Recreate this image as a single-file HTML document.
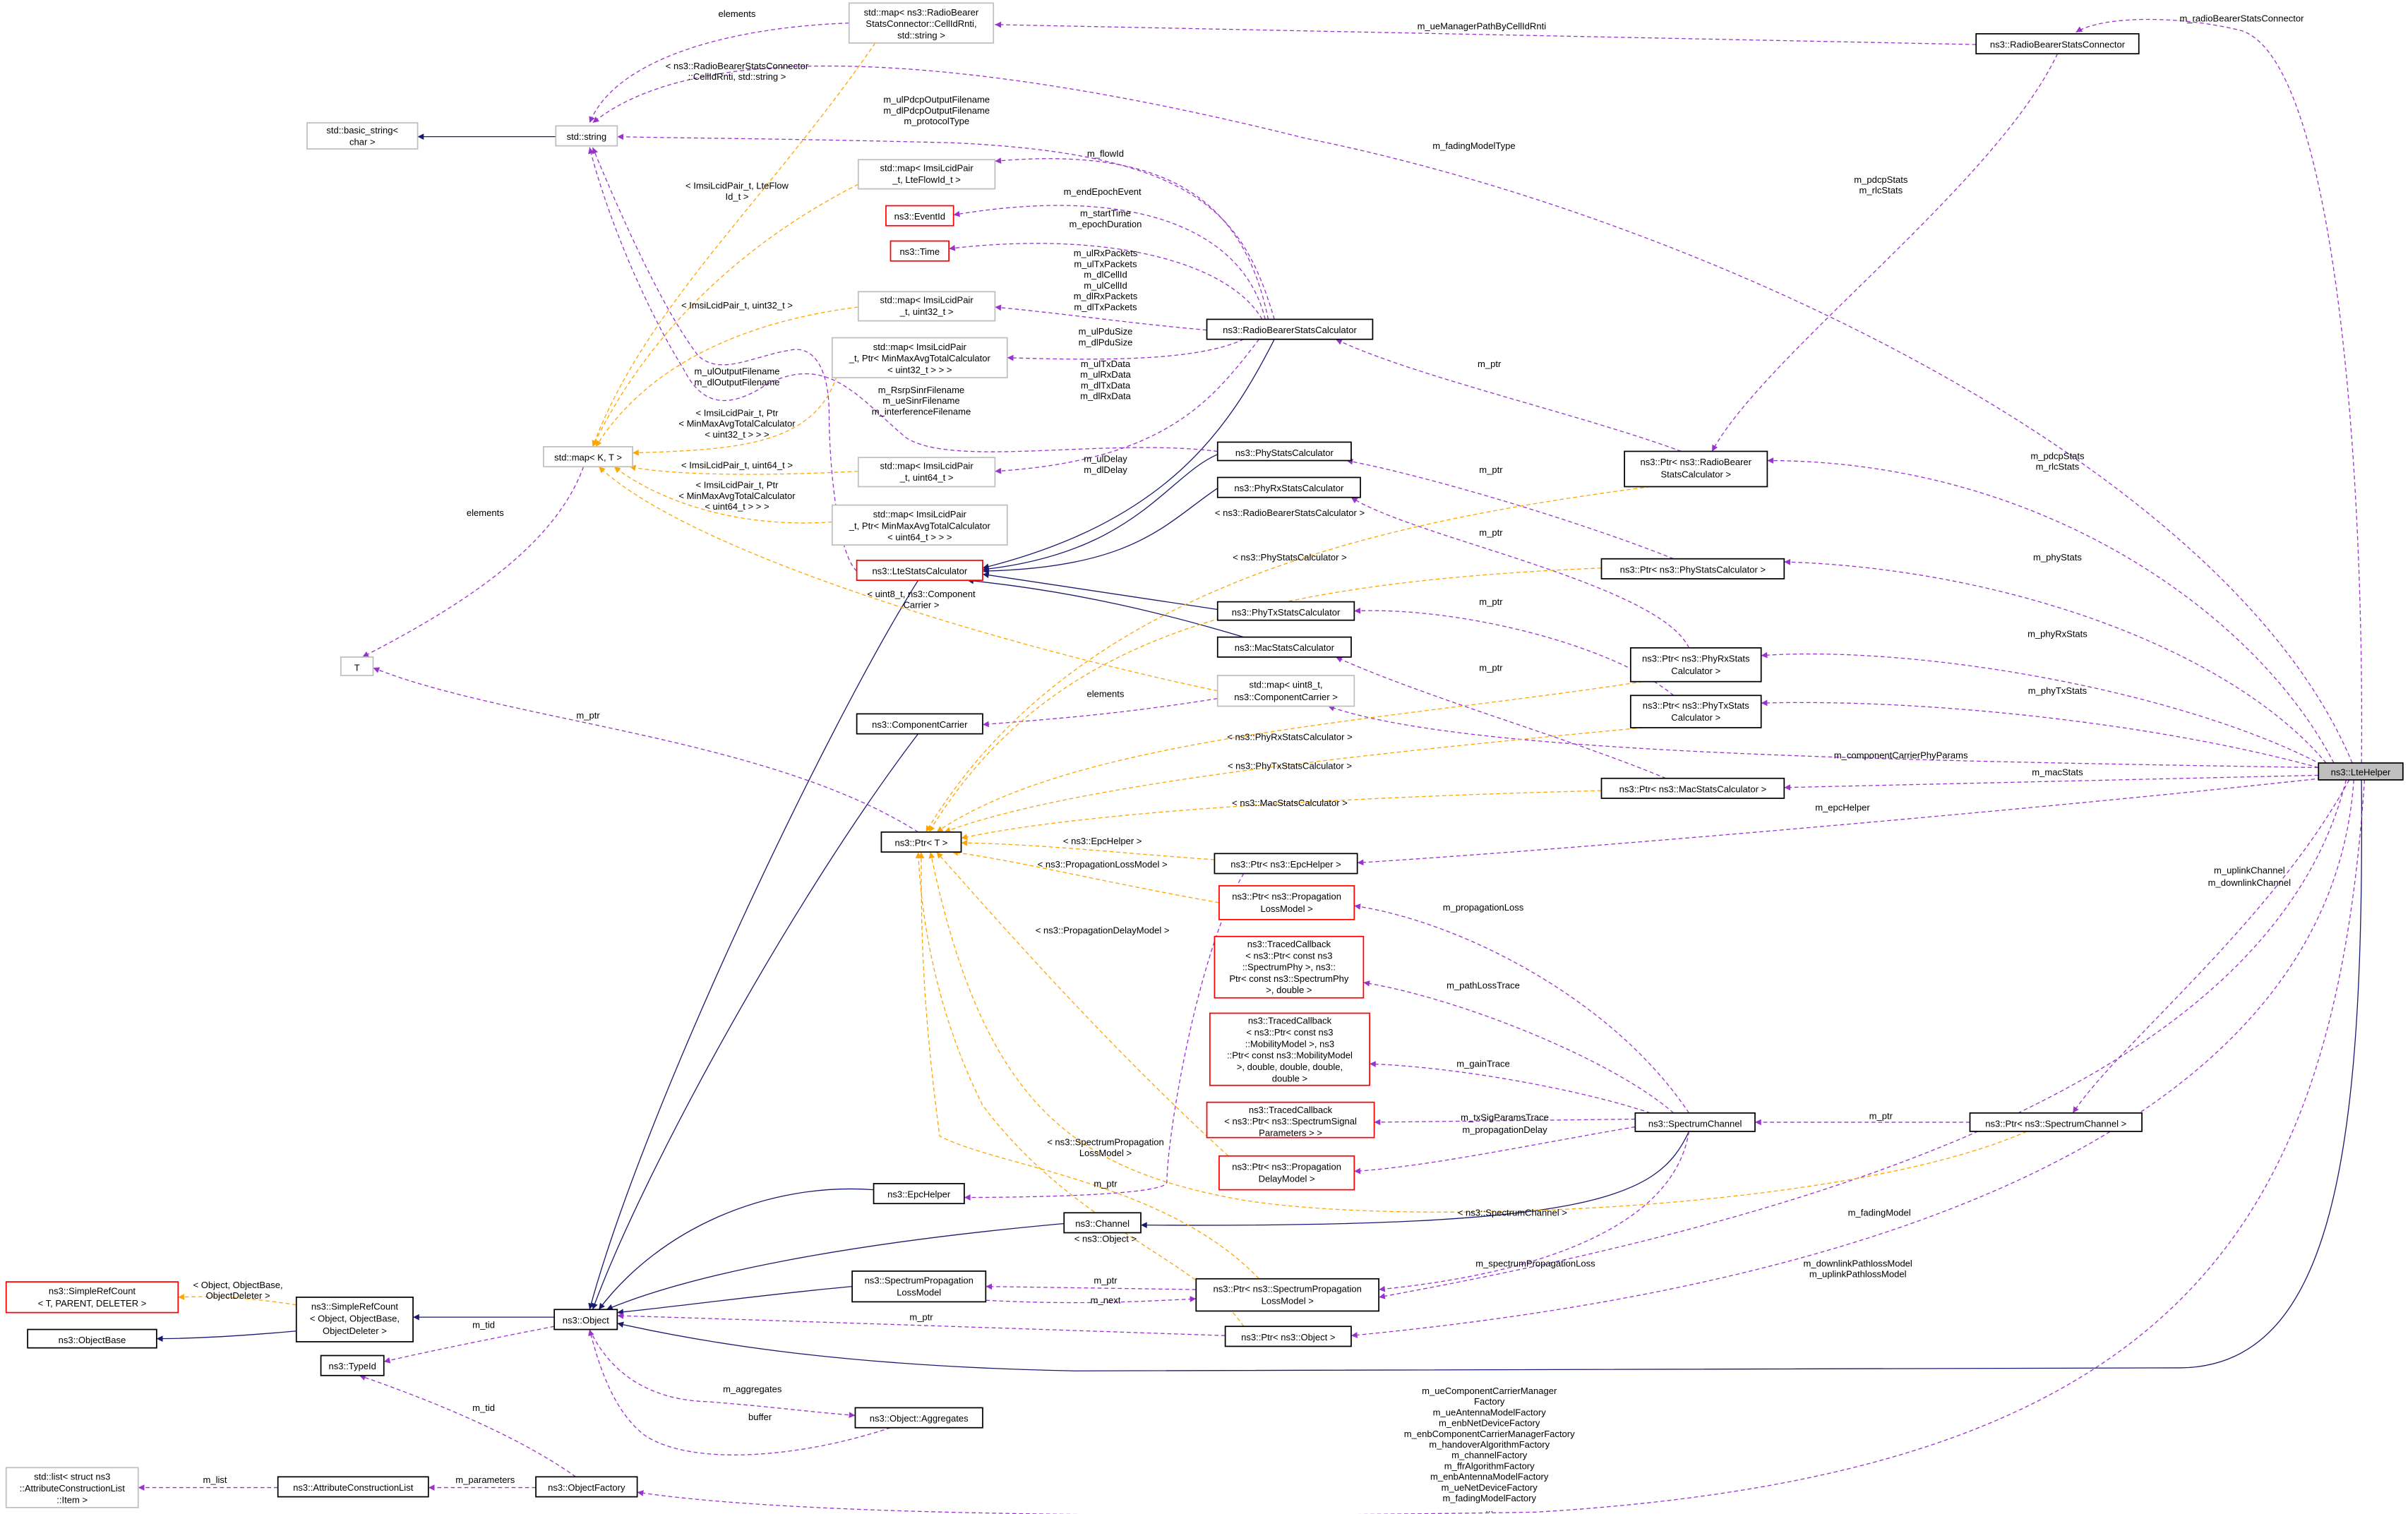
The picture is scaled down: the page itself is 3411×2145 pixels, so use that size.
<!DOCTYPE html>
<html><head><meta charset="utf-8"><style>
html,body{margin:0;padding:0;background:#fff;}
svg{display:block;}
text{font-family:"Liberation Sans","DejaVu Sans",sans-serif;font-size:6px;fill:#000;text-anchor:middle;}
.n{fill:#fff;stroke:#000;stroke-width:0.8;}
.g{fill:#fff;stroke:#bfbfbf;stroke-width:0.8;}
.r{fill:#fff;stroke:#ff0000;stroke-width:0.8;}
.p{fill:none;stroke:#9a32cd;stroke-width:0.6;stroke-dasharray:2.6,1.8;marker-end:url(#mp);}
.o{fill:none;stroke:#ffa500;stroke-width:0.6;stroke-dasharray:2.6,1.8;marker-end:url(#mo);}
.b{fill:none;stroke:#191970;stroke-width:0.6;marker-end:url(#mb);}
</style></head><body>
<svg width="3411" height="2145" viewBox="0 0 1568.3 986.2" xmlns="http://www.w3.org/2000/svg">
<defs>
<marker id="mp" markerUnits="userSpaceOnUse" viewBox="0 0 10 10" refX="10" refY="5" markerWidth="5" markerHeight="4" orient="auto"><path d="M0,0L10,5L0,10z" fill="#9a32cd"/></marker>
<marker id="mo" markerUnits="userSpaceOnUse" viewBox="0 0 10 10" refX="10" refY="5" markerWidth="5" markerHeight="4" orient="auto"><path d="M0,0L10,5L0,10z" fill="#ffa500"/></marker>
<marker id="mb" markerUnits="userSpaceOnUse" viewBox="0 0 10 10" refX="10" refY="5" markerWidth="5" markerHeight="4" orient="auto"><path d="M0,0L10,5L0,10z" fill="#191970"/></marker>
</defs>

<!-- navy edges -->
<path class="b" d="M362,89 L272,89"/>
<path class="b" d="M193,867 C160,870 130,872 102,872"/>
<path class="b" d="M361,858 L269,858"/>
<path class="b" d="M598,378 C540,470 420,720 384,853"/>
<path class="b" d="M598,478 C520,580 420,760 386,853"/>
<path class="b" d="M569,775 C500,770 430,800 390,853"/>
<path class="b" d="M693,797 C550,810 450,830 395,853"/>
<path class="b" d="M555,838 C500,843 450,850 402,855"/>
<path class="b" d="M1538,508 C1540,750 1520,890 1420,891 L700,893 C550,890 460,875 402,862"/>
<path class="b" d="M1100,737 C1080,780 1040,800 743,798"/>
<path class="b" d="M830,221 C800,280 760,340 640,370"/>
<path class="b" d="M793,296 C760,310 740,360 640,371"/>
<path class="b" d="M793,318 C760,340 740,370 640,372"/>
<path class="b" d="M793,397 L640,374"/>
<path class="b" d="M810,415 C760,400 700,385 630,378"/>

<!-- purple edges -->
<path class="p" d="M553,15 C470,18 400,40 384,80"/>
<path class="p" d="M1287,29 L648,16"/>
<path class="p" d="M1538,497 C1540,300 1520,40 1460,20 C1420,10 1370,10 1352,21"/>
<path class="p" d="M1532,497 C1450,300 1100,140 850,90 C650,40 460,20 386,80"/>
<path class="p" d="M830,208 C810,140 780,100 620,93 C500,90 440,90 402,89"/>
<path class="p" d="M826,208 C810,130 760,95 648,105"/>
<path class="p" d="M824,208 C810,150 740,120 621,140"/>
<path class="p" d="M822,208 C800,170 720,150 618,162"/>
<path class="p" d="M786,215 C730,210 700,205 648,200"/>
<path class="p" d="M810,221 C780,235 720,235 656,233"/>
<path class="p" d="M820,221 C790,260 760,300 648,307"/>
<path class="p" d="M793,294 C720,285 620,305 590,285 C560,260 540,230 500,250 C470,270 455,260 445,240 C420,200 395,140 384,96"/>
<path class="p" d="M558,372 C545,360 540,300 540,270 C540,240 530,225 515,228 C490,232 470,245 455,232 C430,200 400,130 386,96"/>
<path class="p" d="M380,304 C360,360 290,400 236,428"/>
<path class="p" d="M598,542 C500,480 330,470 243,435"/>
<path class="p" d="M793,455 C730,465 690,468 640,472"/>
<path class="p" d="M1510,500 C1200,495 950,490 865,460"/>
<path class="p" d="M1520,497 C1470,400 1330,300 1151,300"/>
<path class="p" d="M1340,35 C1300,120 1150,230 1115,294"/>
<path class="p" d="M1095,294 C1030,270 920,245 870,221"/>
<path class="p" d="M1515,497 C1450,420 1300,370 1162,366"/>
<path class="p" d="M1090,364 C1030,340 930,310 877,300"/>
<path class="p" d="M1512,498 C1420,450 1250,420 1147,427"/>
<path class="p" d="M1100,422 C1080,380 920,350 880,324"/>
<path class="p" d="M1510,500 C1400,470 1250,455 1147,458"/>
<path class="p" d="M1090,453 C1050,420 950,395 882,398"/>
<path class="p" d="M1510,505 L1162,513"/>
<path class="p" d="M1085,507 C1020,480 930,455 870,428"/>
<path class="p" d="M1512,507 C1300,530 1000,555 884,562"/>
<path class="p" d="M810,569 C780,620 760,740 760,770 C760,778 680,780 628,780"/>
<path class="p" d="M1100,725 C1050,650 950,600 882,590"/>
<path class="p" d="M1090,725 C1050,690 950,650 888,640"/>
<path class="p" d="M1075,725 C1030,710 950,695 892,693"/>
<path class="p" d="M1065,729 L895,731"/>
<path class="p" d="M1065,734 C1000,745 930,760 882,763"/>
<path class="p" d="M1100,737 C1090,800 1000,830 898,840"/>
<path class="p" d="M1283,731 L1143,731"/>
<path class="p" d="M1530,508 C1480,600 1380,680 1350,725"/>
<path class="p" d="M1528,508 C1480,700 1200,790 898,845"/>
<path class="p" d="M1533,508 C1520,700 1300,830 880,870"/>
<path class="p" d="M779,840 L642,838"/>
<path class="p" d="M642,847 C700,850 740,848 779,846"/>
<path class="p" d="M798,870 C650,865 500,860 402,857"/>
<path class="p" d="M361,864 C320,872 280,880 250,887"/>
<path class="p" d="M375,962 C330,930 260,905 234,896"/>
<path class="p" d="M384,866 C400,900 430,912 460,913 C500,916 530,920 557,922"/>
<path class="p" d="M580,930 C520,950 450,955 420,935 C400,920 390,890 384,866"/>
<path class="p" d="M349,969 L279,969"/>
<path class="p" d="M181,969 L90,969"/>
<path class="p" d="M1540,508 C1520,800 1420,960 1000,985 C700,990 500,985 415,972"/>

<!-- orange edges -->
<path class="o" d="M193,850 C160,845 140,844 116,845"/>
<path class="o" d="M570,28 C500,130 420,200 386,291"/>
<path class="o" d="M559,120 C480,160 420,220 386,291"/>
<path class="o" d="M559,200 C480,210 420,240 388,291"/>
<path class="o" d="M545,245 C530,290 480,293 412,295"/>
<path class="o" d="M559,307 C500,310 440,310 410,304"/>
<path class="o" d="M542,340 C470,345 420,320 400,304"/>
<path class="o" d="M793,450 C650,420 450,360 390,304"/>
<path class="o" d="M1075,317 C900,340 700,380 603,542"/>
<path class="o" d="M1043,370 C800,380 680,420 605,542"/>
<path class="o" d="M1070,444 C900,470 700,480 610,542"/>
<path class="o" d="M1070,474 C900,490 700,510 615,542"/>
<path class="o" d="M1043,515 C850,520 700,530 626,546"/>
<path class="o" d="M791,560 C720,555 680,550 626,549"/>
<path class="o" d="M794,588 C720,575 660,560 620,555"/>
<path class="o" d="M800,753 C720,680 650,600 610,555"/>
<path class="o" d="M1320,737 C1200,790 900,800 800,780 C700,760 640,720 606,555"/>
<path class="o" d="M820,833 C760,770 650,760 612,740 C600,650 600,600 600,555"/>
<path class="o" d="M810,864 C780,820 700,800 640,720 C610,660 600,600 598,555"/>

<!-- edge labels -->
<text x="480" y="11">elements</text>
<text x="965" y="19">m_ueManagerPathByCellIdRnti</text>
<text x="1460" y="14">m_radioBearerStatsConnector</text>
<text x="960" y="97">m_fadingModelType</text>
<text x="480" y="45">&lt; ns3::RadioBearerStatsConnector</text>
<text x="480" y="52">::CellIdRnti, std::string &gt;</text>
<text x="610" y="67">m_ulPdcpOutputFilename</text>
<text x="610" y="74">m_dlPdcpOutputFilename</text>
<text x="610" y="81">m_protocolType</text>
<text x="720" y="102">m_flowId</text>
<text x="718" y="127">m_endEpochEvent</text>
<text x="720" y="141">m_startTime</text>
<text x="720" y="148">m_epochDuration</text>
<text x="720" y="167">m_ulRxPackets</text>
<text x="720" y="174">m_ulTxPackets</text>
<text x="720" y="181">m_dlCellId</text>
<text x="720" y="188">m_ulCellId</text>
<text x="720" y="195">m_dlRxPackets</text>
<text x="720" y="202">m_dlTxPackets</text>
<text x="720" y="218">m_ulPduSize</text>
<text x="720" y="225">m_dlPduSize</text>
<text x="720" y="239">m_ulTxData</text>
<text x="720" y="246">m_ulRxData</text>
<text x="720" y="253">m_dlTxData</text>
<text x="720" y="260">m_dlRxData</text>
<text x="480" y="123">&lt; ImsiLcidPair_t, LteFlow</text>
<text x="480" y="130">Id_t &gt;</text>
<text x="480" y="201">&lt; ImsiLcidPair_t, uint32_t &gt;</text>
<text x="480" y="244">m_ulOutputFilename</text>
<text x="480" y="251">m_dlOutputFilename</text>
<text x="600" y="256">m_RsrpSinrFilename</text>
<text x="600" y="263">m_ueSinrFilename</text>
<text x="600" y="270">m_interferenceFilename</text>
<text x="480" y="271">&lt; ImsiLcidPair_t, Ptr</text>
<text x="480" y="278">&lt; MinMaxAvgTotalCalculator</text>
<text x="480" y="285">&lt; uint32_t &gt; &gt; &gt;</text>
<text x="480" y="305">&lt; ImsiLcidPair_t, uint64_t &gt;</text>
<text x="480" y="318">&lt; ImsiLcidPair_t, Ptr</text>
<text x="480" y="325">&lt; MinMaxAvgTotalCalculator</text>
<text x="480" y="332">&lt; uint64_t &gt; &gt; &gt;</text>
<text x="720" y="301">m_ulDelay</text>
<text x="720" y="308">m_dlDelay</text>
<text x="316" y="336">elements</text>
<text x="600" y="389">&lt; uint8_t, ns3::Component</text>
<text x="600" y="396">Carrier &gt;</text>
<text x="383" y="468">m_ptr</text>
<text x="720" y="454">elements</text>
<text x="1238" y="494">m_componentCarrierPhyParams</text>
<text x="1340" y="299">m_pdcpStats</text>
<text x="1340" y="306">m_rlcStats</text>
<text x="1225" y="119">m_pdcpStats</text>
<text x="1225" y="126">m_rlcStats</text>
<text x="970" y="239">m_ptr</text>
<text x="1340" y="365">m_phyStats</text>
<text x="971" y="308">m_ptr</text>
<text x="1340" y="415">m_phyRxStats</text>
<text x="971" y="349">m_ptr</text>
<text x="1340" y="452">m_phyTxStats</text>
<text x="971" y="394">m_ptr</text>
<text x="1340" y="505">m_macStats</text>
<text x="971" y="437">m_ptr</text>
<text x="1200" y="528">m_epcHelper</text>
<text x="720" y="773">m_ptr</text>
<text x="966" y="593">m_propagationLoss</text>
<text x="966" y="644">m_pathLossTrace</text>
<text x="966" y="695">m_gainTrace</text>
<text x="980" y="730">m_txSigParamsTrace</text>
<text x="980" y="738">m_propagationDelay</text>
<text x="1000" y="825">m_spectrumPropagationLoss</text>
<text x="1225" y="729">m_ptr</text>
<text x="1465" y="569">m_uplinkChannel</text>
<text x="1465" y="577">m_downlinkChannel</text>
<text x="1224" y="792">m_fadingModel</text>
<text x="1210" y="825">m_downlinkPathlossModel</text>
<text x="1210" y="832">m_uplinkPathlossModel</text>
<text x="720" y="836">m_ptr</text>
<text x="720" y="849">m_next</text>
<text x="600" y="860">m_ptr</text>
<text x="315" y="865">m_tid</text>
<text x="315" y="919">m_tid</text>
<text x="490" y="907">m_aggregates</text>
<text x="495" y="925">buffer</text>
<text x="316" y="966">m_parameters</text>
<text x="140" y="966">m_list</text>
<text x="155" y="839">&lt; Object, ObjectBase,</text>
<text x="155" y="846">ObjectDeleter &gt;</text>
<text x="840" y="336">&lt; ns3::RadioBearerStatsCalculator &gt;</text>
<text x="840" y="365">&lt; ns3::PhyStatsCalculator &gt;</text>
<text x="840" y="482">&lt; ns3::PhyRxStatsCalculator &gt;</text>
<text x="840" y="501">&lt; ns3::PhyTxStatsCalculator &gt;</text>
<text x="840" y="525">&lt; ns3::MacStatsCalculator &gt;</text>
<text x="718" y="550">&lt; ns3::EpcHelper &gt;</text>
<text x="718" y="565">&lt; ns3::PropagationLossModel &gt;</text>
<text x="718" y="608">&lt; ns3::PropagationDelayModel &gt;</text>
<text x="985" y="792">&lt; ns3::SpectrumChannel &gt;</text>
<text x="720" y="746">&lt; ns3::SpectrumPropagation</text>
<text x="720" y="753">LossModel &gt;</text>
<text x="720" y="809">&lt; ns3::Object &gt;</text>
<text x="970" y="908">m_ueComponentCarrierManager</text>
<text x="970" y="915">Factory</text>
<text x="970" y="922">m_ueAntennaModelFactory</text>
<text x="970" y="929">m_enbNetDeviceFactory</text>
<text x="970" y="936">m_enbComponentCarrierManagerFactory</text>
<text x="970" y="943">m_handoverAlgorithmFactory</text>
<text x="970" y="950">m_channelFactory</text>
<text x="970" y="957">m_ffrAlgorithmFactory</text>
<text x="970" y="964">m_enbAntennaModelFactory</text>
<text x="970" y="971">m_ueNetDeviceFactory</text>
<text x="970" y="978">m_fadingModelFactory</text>
<text x="970" y="985">...</text>

<!-- nodes -->
<rect x="1510" y="497" width="55" height="11" fill="#bfbfbf" stroke="#000" stroke-width="0.8"/><text x="1537.5" y="505">ns3::LteHelper</text>
<rect class="g" x="553" y="2" width="94" height="26"/><text x="600" y="10">std::map&lt; ns3::RadioBearer</text><text x="600" y="17.5">StatsConnector::CellIdRnti,</text><text x="600" y="25">std::string &gt;</text>
<rect class="n" x="1287" y="22" width="106" height="13"/><text x="1340" y="31">ns3::RadioBearerStatsConnector</text>
<rect class="g" x="200" y="80" width="72" height="17"/><text x="236" y="87">std::basic_string&lt;</text><text x="236" y="94.5">char &gt;</text>
<rect class="g" x="362" y="82" width="40" height="13"/><text x="382" y="91">std::string</text>
<rect class="g" x="559" y="104" width="89" height="19"/><text x="603.5" y="111.5">std::map&lt; ImsiLcidPair</text><text x="603.5" y="119">_t, LteFlowId_t &gt;</text>
<rect class="r" x="577" y="134" width="44" height="13"/><text x="599" y="143">ns3::EventId</text>
<rect class="r" x="580" y="157" width="38" height="13"/><text x="599" y="166">ns3::Time</text>
<rect class="g" x="559" y="190" width="89" height="19"/><text x="603.5" y="197.5">std::map&lt; ImsiLcidPair</text><text x="603.5" y="205">_t, uint32_t &gt;</text>
<rect class="n" x="786" y="208" width="108" height="13"/><text x="840" y="217">ns3::RadioBearerStatsCalculator</text>
<rect class="g" x="542" y="220" width="114" height="26"/><text x="599" y="228">std::map&lt; ImsiLcidPair</text><text x="599" y="235.5">_t, Ptr&lt; MinMaxAvgTotalCalculator</text><text x="599" y="243">&lt; uint32_t &gt; &gt; &gt;</text>
<rect class="g" x="354" y="291" width="58" height="13"/><text x="383" y="300">std::map&lt; K, T &gt;</text>
<rect class="n" x="793" y="288" width="87" height="12"/><text x="836.5" y="297">ns3::PhyStatsCalculator</text>
<rect class="n" x="793" y="311" width="93" height="13"/><text x="839.5" y="320">ns3::PhyRxStatsCalculator</text>
<rect class="n" x="1058" y="294" width="93" height="23"/><text x="1104.5" y="303">ns3::Ptr&lt; ns3::RadioBearer</text><text x="1104.5" y="311">StatsCalculator &gt;</text>
<rect class="g" x="559" y="298" width="89" height="19"/><text x="603.5" y="305.5">std::map&lt; ImsiLcidPair</text><text x="603.5" y="313">_t, uint64_t &gt;</text>
<rect class="g" x="542" y="329" width="114" height="26"/><text x="599" y="337">std::map&lt; ImsiLcidPair</text><text x="599" y="344.5">_t, Ptr&lt; MinMaxAvgTotalCalculator</text><text x="599" y="352">&lt; uint64_t &gt; &gt; &gt;</text>
<rect class="r" x="558" y="365" width="82" height="13"/><text x="599" y="374">ns3::LteStatsCalculator</text>
<rect class="n" x="1043" y="364" width="119" height="13"/><text x="1102.5" y="373">ns3::Ptr&lt; ns3::PhyStatsCalculator &gt;</text>
<rect class="n" x="793" y="392" width="89" height="12"/><text x="837.5" y="401">ns3::PhyTxStatsCalculator</text>
<rect class="n" x="793" y="415" width="87" height="13"/><text x="836.5" y="424">ns3::MacStatsCalculator</text>
<rect class="n" x="1062" y="422" width="85" height="22"/><text x="1104.5" y="431">ns3::Ptr&lt; ns3::PhyRxStats</text><text x="1104.5" y="439">Calculator &gt;</text>
<rect class="g" x="222" y="428" width="21" height="12"/><text x="232.5" y="437">T</text>
<rect class="g" x="793" y="440" width="89" height="20"/><text x="837.5" y="448">std::map&lt; uint8_t,</text><text x="837.5" y="456">ns3::ComponentCarrier &gt;</text>
<rect class="n" x="558" y="465" width="82" height="13"/><text x="599" y="474">ns3::ComponentCarrier</text>
<rect class="n" x="1062" y="453" width="85" height="21"/><text x="1104.5" y="461.5">ns3::Ptr&lt; ns3::PhyTxStats</text><text x="1104.5" y="469.5">Calculator &gt;</text>
<rect class="n" x="1043" y="507" width="119" height="13"/><text x="1102.5" y="516">ns3::Ptr&lt; ns3::MacStatsCalculator &gt;</text>
<rect class="n" x="574" y="542" width="52" height="13"/><text x="600" y="551">ns3::Ptr&lt; T &gt;</text>
<rect class="n" x="791" y="556" width="93" height="13"/><text x="837.5" y="565">ns3::Ptr&lt; ns3::EpcHelper &gt;</text>
<rect class="r" x="794" y="577" width="88" height="22"/><text x="838" y="586">ns3::Ptr&lt; ns3::Propagation</text><text x="838" y="594">LossModel &gt;</text>
<rect class="r" x="791" y="610" width="97" height="40"/><text x="839.5" y="617">ns3::TracedCallback</text><text x="839.5" y="624.5">&lt; ns3::Ptr&lt; const ns3</text><text x="839.5" y="632">::SpectrumPhy &gt;, ns3::</text><text x="839.5" y="639.5">Ptr&lt; const ns3::SpectrumPhy</text><text x="839.5" y="647">&gt;, double &gt;</text>
<rect class="r" x="788" y="660" width="104" height="47"/><text x="840" y="667">ns3::TracedCallback</text><text x="840" y="674.5">&lt; ns3::Ptr&lt; const ns3</text><text x="840" y="682">::MobilityModel &gt;, ns3</text><text x="840" y="689.5">::Ptr&lt; const ns3::MobilityModel</text><text x="840" y="697">&gt;, double, double, double,</text><text x="840" y="704.5">double &gt;</text>
<rect class="r" x="786" y="718" width="109" height="23"/><text x="840.5" y="725">ns3::TracedCallback</text><text x="840.5" y="732.5">&lt; ns3::Ptr&lt; ns3::SpectrumSignal</text><text x="840.5" y="740">Parameters &gt; &gt;</text>
<rect class="r" x="794" y="753" width="88" height="22"/><text x="838" y="762">ns3::Ptr&lt; ns3::Propagation</text><text x="838" y="770">DelayModel &gt;</text>
<rect class="n" x="1065" y="725" width="78" height="12"/><text x="1104" y="734">ns3::SpectrumChannel</text>
<rect class="n" x="1283" y="725" width="112" height="12"/><text x="1339" y="734">ns3::Ptr&lt; ns3::SpectrumChannel &gt;</text>
<rect class="n" x="569" y="771" width="59" height="13"/><text x="598.5" y="780">ns3::EpcHelper</text>
<rect class="n" x="693" y="790" width="50" height="13"/><text x="718" y="799">ns3::Channel</text>
<rect class="n" x="779" y="833" width="119" height="21"/><text x="838.5" y="841.5">ns3::Ptr&lt; ns3::SpectrumPropagation</text><text x="838.5" y="849.5">LossModel &gt;</text>
<rect class="n" x="555" y="828" width="87" height="20"/><text x="598.5" y="836">ns3::SpectrumPropagation</text><text x="598.5" y="844">LossModel</text>
<rect class="n" x="361" y="853" width="41" height="13"/><text x="381.5" y="862">ns3::Object</text>
<rect class="n" x="798" y="864" width="82" height="13"/><text x="839" y="873">ns3::Ptr&lt; ns3::Object &gt;</text>
<rect class="r" x="4" y="835" width="112" height="20"/><text x="60" y="843">ns3::SimpleRefCount</text><text x="60" y="851">&lt; T, PARENT, DELETER &gt;</text>
<rect class="n" x="193" y="845" width="76" height="29"/><text x="231" y="853">ns3::SimpleRefCount</text><text x="231" y="861">&lt; Object, ObjectBase,</text><text x="231" y="869">ObjectDeleter &gt;</text>
<rect class="n" x="18" y="866" width="84" height="12"/><text x="60" y="875">ns3::ObjectBase</text>
<rect class="n" x="209" y="883" width="41" height="13"/><text x="229.5" y="892">ns3::TypeId</text>
<rect class="n" x="557" y="917" width="83" height="13"/><text x="598.5" y="926">ns3::Object::Aggregates</text>
<rect class="g" x="4" y="956" width="86" height="26"/><text x="47" y="964">std::list&lt; struct ns3</text><text x="47" y="971.5">::AttributeConstructionList</text><text x="47" y="979">::Item &gt;</text>
<rect class="n" x="181" y="962" width="98" height="13"/><text x="230" y="971">ns3::AttributeConstructionList</text>
<rect class="n" x="349" y="962" width="66" height="13"/><text x="382" y="971">ns3::ObjectFactory</text>
</svg>
</body></html>
